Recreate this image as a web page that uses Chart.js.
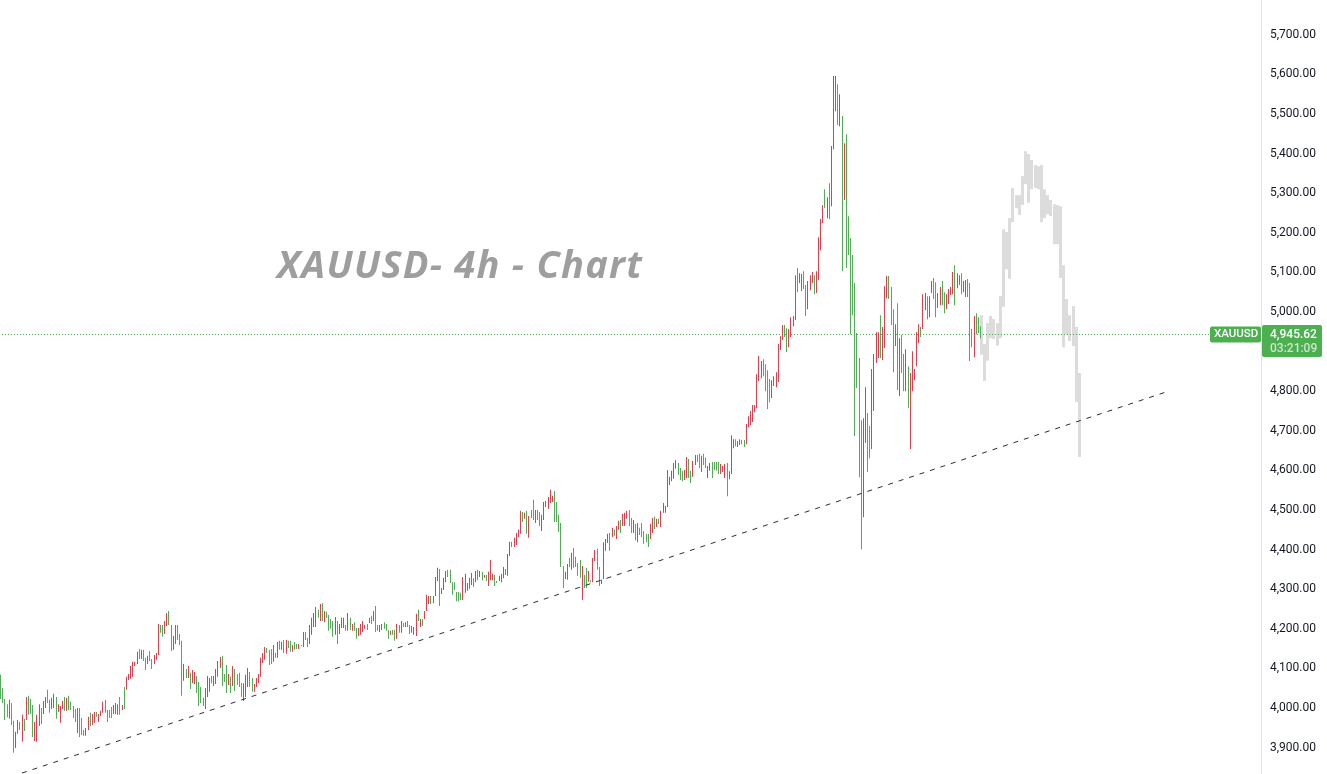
<!DOCTYPE html>
<html>
<head>
<meta charset="utf-8">
<title>XAUUSD 4h</title>
<script src="https://cdn.jsdelivr.net/npm/chart.js@4"></script>
<style>
  html, body { margin: 0; padding: 0; background: #fff; overflow: hidden; }
  canvas { display: block; }
</style>
</head>
<body>
<canvas id="chart" width="1327" height="774"></canvas>
<script>
const yTicks = [3900, 4000, 4100, 4200, 4300, 4400, 4500, 4600, 4700, 4800, 4900, 5000, 5100, 5200, 5300, 5400, 5500, 5600, 5700];
const lastPrice = 4945.62;
const countdown = '03:21:09';
const symbol = 'XAUUSD';
const chartTitle = 'XAUUSD- 4h - Chart';

// bars, one entry per 4h bar
const barHigh = [
  4084,4051,4023,4010,4021,4013,3968,3940,3970,3965,
  3983,3973,4028,4031,4023,4008,3965,3983,4010,4000,
  4018,4028,4046,4021,4026,4036,4028,4010,4005,4018,
  4028,4026,4031,4016,4005,3998,4000,4000,3975,3945,
  3950,3978,3988,3985,3990,3990,3985,3993,4016,4021,
  3995,3995,4003,4008,4013,4010,4028,4008,4053,4079,
  4086,4106,4117,4117,4142,4149,4147,4147,4127,4132,
  4144,4124,4134,4139,4212,4210,4210,4220,4240,4245,
  4210,4182,4210,4210,4187,4170,4111,4099,4106,4089,
  4096,4091,4081,4066,4053,4026,4051,4081,4076,4081,
  4081,4099,4119,4129,4132,4086,4109,4086,4079,4106,
  4099,4086,4089,4063,4063,4084,4101,4091,4076,4061,
  4076,4086,4127,4139,4154,4152,4147,4149,4159,4139,
  4167,4170,4167,4172,4172,4170,4170,4159,4167,4162,
  4162,4159,4192,4192,4177,4210,4228,4240,4255,4248,
  4263,4265,4245,4243,4235,4225,4220,4230,4220,4212,
  4228,4228,4210,4240,4228,4212,4217,4202,4202,4212,
  4220,4210,4212,4228,4233,4245,4258,4210,4210,4212,
  4217,4212,4197,4195,4197,4197,4212,4210,4220,4215,
  4217,4220,4210,4207,4205,4238,4248,4225,4225,4245,
  4286,4283,4283,4283,4331,4354,4351,4303,4329,4346,
  4349,4349,4318,4318,4293,4293,4291,4331,4339,4316,
  4329,4341,4328,4346,4349,4346,4344,4336,4336,4344,
  4374,4339,4336,4321,4334,4339,4356,4351,4389,4420,
  4420,4430,4442,4450,4498,4495,4493,4498,4485,4500,
  4526,4500,4500,4495,4488,4520,4523,4533,4551,4536,
  4548,4520,4488,4467,4359,4344,4364,4379,4392,4404,
  4382,4366,4374,4359,4336,4354,4346,4323,4379,4399,
  4402,4356,4324,4419,4427,4440,4442,4455,4450,4460,
  4473,4475,4490,4493,4498,4500,4480,4475,4465,4467,
  4455,4467,4447,4440,4440,4465,4480,4483,4478,4478,
  4498,4518,4510,4601,4584,4599,4619,4626,4619,4606,
  4599,4601,4634,4629,4599,4624,4639,4639,4642,4637,
  4642,4632,4611,4619,4621,4621,4621,4621,4616,4611,
  4616,4619,4598,4689,4679,4679,4674,4679,4677,4677,
  4717,4737,4750,4765,4765,4843,4889,4876,4881,4868,
  4853,4831,4828,4838,4848,4919,4939,4967,4967,4959,
  4957,4987,4990,5093,5111,5098,5096,5103,5068,5078,
  5093,5101,5093,5103,5189,5235,5270,5310,5290,5325,
  5419,5596,5596,5575,5550,5495,5426,5449,5242,5187,
  5144,5073,4947,4884,4727,4732,4810,4745,4712,4856,
  4894,4949,4949,4992,4962,5065,5091,5091,5063,5007,
  4969,5022,4934,4942,4894,4906,4863,4846,4901,4856,
  4949,4969,4962,5045,5048,5040,5040,5078,5086,5075,
  5048,5063,5078,5050,5045,5058,5063,5101,5118,5098,
  5093,5098,5078,5081,5083,5073,4957,4990,4997,4987,4964
];
const barLow = [
  4023,4013,3970,3977,3973,3957,3887,3899,3935,3945,
  3915,3942,3970,3983,3985,3927,3917,3915,3955,3960,
  3985,4000,4013,3988,3998,4000,3973,3990,3963,3998,
  3993,3993,3995,3995,3975,3965,3937,3927,3932,3930,
  3930,3945,3955,3957,3963,3978,3965,3980,3988,3988,
  3965,3975,3975,3985,3985,3983,3983,3995,3998,4046,
  4071,4074,4079,4106,4111,4124,4124,4119,4096,4111,
  4119,4099,4111,4122,4134,4190,4180,4187,4207,4210,
  4144,4147,4162,4172,4159,4031,4069,4076,4076,4048,
  4063,4061,4038,4005,4013,4005,3998,4028,4041,4063,
  4056,4061,4079,4101,4056,4066,4038,4058,4038,4056,
  4043,4058,4053,4028,4018,4028,4053,4053,4041,4041,
  4053,4063,4079,4114,4122,4139,4109,4111,4117,4127,
  4127,4147,4147,4139,4137,4152,4142,4142,4147,4149,
  4149,4157,4154,4172,4154,4162,4185,4205,4205,4228,
  4220,4220,4217,4228,4195,4200,4180,4185,4162,4187,
  4202,4202,4195,4195,4197,4195,4195,4175,4182,4185,
  4192,4200,4197,4215,4212,4220,4192,4195,4192,4197,
  4200,4195,4175,4185,4185,4170,4175,4190,4190,4205,
  4205,4205,4187,4190,4185,4182,4220,4205,4207,4225,
  4245,4263,4263,4265,4283,4321,4258,4288,4298,4318,
  4331,4316,4286,4298,4270,4270,4273,4273,4291,4296,
  4301,4311,4306,4318,4323,4331,4323,4329,4321,4308,
  4323,4323,4308,4316,4321,4318,4328,4336,4334,4384,
  4407,4407,4412,4432,4440,4470,4478,4440,4430,4480,
  4475,4467,4475,4460,4447,4475,4508,4503,4518,4520,
  4470,4470,4445,4356,4303,4326,4324,4356,4349,4354,
  4356,4334,4329,4273,4303,4303,4319,4318,4318,4371,
  4349,4308,4313,4326,4397,4417,4397,4432,4435,4427,
  4450,4442,4460,4460,4478,4460,4442,4442,4424,4419,
  4437,4432,4414,4419,4407,4427,4442,4452,4457,4465,
  4457,4493,4493,4508,4563,4573,4579,4604,4589,4576,
  4573,4576,4581,4581,4568,4584,4614,4621,4606,4596,
  4614,4606,4581,4599,4581,4601,4599,4591,4591,4596,
  4581,4535,4578,4591,4656,4661,4659,4664,4666,4659,
  4666,4709,4714,4722,4747,4757,4826,4833,4838,4800,
  4755,4772,4783,4813,4810,4823,4904,4929,4937,4899,
  4911,4937,4964,4980,5050,5073,5053,5058,4990,5007,
  5055,5073,5045,5048,5081,5156,5225,5262,5237,5235,
  5267,5411,5507,5472,5469,5103,5283,5111,5144,4944,
  4992,4687,4808,4583,4401,4482,4669,4596,4631,4654,
  4750,4871,4884,4884,4879,4909,5035,5033,4967,4848,
  4914,4803,4788,4846,4800,4800,4757,4654,4800,4828,
  4863,4921,4937,4957,5005,4982,4987,5048,5033,4987,
  5010,5017,5017,4997,5007,5020,5043,5045,5017,5060,
  5068,5045,5050,5038,5038,4876,4911,4886,4944,4947,4934
];
// g = green bar, r = red bar
const barSide = [
  'ggggrggrrg','rgrgggrrrg','rrggrrgrrr','grggggrggg','rrgrrgrrrg','gggrrrgrgr',
  'rrrrrgrggr','ggrrrggrrg','grrgggrgrg','rrggggrrrg','rrrrgggrgr','ggggrrrggr',
  'rrrrrgggrg','rgrgrggrgg','rgrggrrrrg','rgrggggrgr','rrgrgrggrr','rrgrgrggrr',
  'gggrggrgrg','rggrrrgrgr','rrgrrrgrrr','gggggggrrr','rrgrgrgrgr','rrggrrrgrr',
  'grrrrgrgrg','grggrrrrrr','gggggrrgrg','gggrggrgrr','ggrrrrgrgr','rgrrrggrgr',
  'gggggrrgrg','rrrrrrrrgg','grrggrrggr','ggrrggggrr','rgrrrgrrgg','rrrrrrrrgg',
  'ggrrrrrrgg','rrrrgrrggr','rrgrrrrgrg','rrrgrgrggg','gggggrrggr','rrrgrrrggg',
  'rgrggrgrrr','rrgrrgrrgg','rrggrrrrgr','rgrrgggrggg'
].join('').split('');

// faded projection pasted on the right, drawn wider than the live bars
const ghostHigh = [
  4992,4919,4972,4990,4982,4972,5040,5209,5202,5237,5313,5295,5295,5343,5406,5399,
  5384,5371,5368,5371,5310,5295,5283,5272,5270,5267,5118,5033,4992,5015,4962,4846
];
const ghostLow = [
  4892,4826,4877,4934,4932,4915,4934,5013,5108,5084,5227,5262,5245,5270,5323,5276,
  5310,5313,5310,5227,5237,5247,5242,5171,5171,5086,4911,4944,4927,4914,4773,4634
];
const ghostStart = 460.4;
const ghostStep = 1.484;

// hand drawn trendline, bar index and price of both ends
const trendIndex = [10, 547.1];
const trendPrice = [3836, 4798];

const GREEN = '#4caf50';
const RED = '#f23645';

const bars = barHigh.map((h, i) => ({ x: i, y: [barLow[i], h] }));
const ghost = ghostHigh.map((h, i) => ({ x: ghostStart + i * ghostStep, y: [ghostLow[i], h] }));

// keep the thin bars and the price line on whole pixels so they stay sharp
const snapMarks = {
  id: 'snapMarks',
  beforeDatasetsDraw(chart) {
    chart.data.datasets.forEach((ds, i) => {
      const els = chart.getDatasetMeta(i).data;
      if (ds.snap === 'bar') {
        els.forEach(el => { el.x = Math.floor(el.x) + 0.5; });
      } else if (ds.snap === 'price') {
        els.forEach(el => { el.x = Math.round(el.x); el.y = Math.round(el.y) + 0.5; });
      }
    });
  }
};

const pricePill = {
  id: 'pricePill',
  afterDraw(chart) {
    const ctx = chart.ctx;
    const y = chart.scales.y.getPixelForValue(lastPrice);
    ctx.save();

    ctx.fillStyle = '#9e9e9e';
    ctx.font = 'italic bold 38px "Open Sans"';
    ctx.letterSpacing = '1.25px';
    ctx.textAlign = 'left';
    ctx.textBaseline = 'alphabetic';
    ctx.fillText(chartTitle, 277, 278);
    ctx.letterSpacing = '0px';

    ctx.fillStyle = GREEN;
    ctx.beginPath();
    ctx.roundRect(1210, y - 7, 51, 16, 2);
    ctx.fill();
    ctx.beginPath();
    ctx.roundRect(1262, y - 8.5, 60, 32, 2);
    ctx.fill();

    ctx.textBaseline = 'middle';
    ctx.fillStyle = '#fff';
    ctx.font = '500 11.5px Roboto';
    ctx.fillText(symbol, 1214, y + 1);
    ctx.font = '500 12px Roboto';
    ctx.fillText(lastPrice.toLocaleString('en-US', { minimumFractionDigits: 2 }), 1270, y + 1);
    ctx.fillStyle = 'rgba(255,255,255,0.7)';
    ctx.fillText(countdown, 1270, y + 15);
    ctx.restore();
  }
};

new Chart(document.getElementById('chart'), {
  type: 'bar',
  data: {
    datasets: [
      {
        data: ghost,
        backgroundColor: '#dcdcdc',
        barThickness: 3,
        inflateAmount: 0,
        grouped: false,
        snap: 'bar',
        order: 5
      },
      {
        type: 'line',
        data: [{ x: -1, y: lastPrice }, { x: 592, y: lastPrice }],
        borderColor: GREEN,
        borderWidth: 1,
        borderDash: [1, 2],
        pointRadius: 0,
        snap: 'price',
        order: 4
      },
      {
        data: bars,
        backgroundColor: barSide.map(s => s === 'g' ? GREEN : RED),
        barThickness: 1,
        inflateAmount: 0,
        grouped: false,
        snap: 'bar',
        order: 3
      },
      {
        type: 'line',
        data: trendIndex.map((x, i) => ({ x, y: trendPrice[i] })),
        borderColor: '#2a2e39',
        borderWidth: 1,
        borderDash: [5, 6],
        pointRadius: 0,
        order: 2
      }
    ]
  },
  options: {
    responsive: false,
    devicePixelRatio: 1,
    animation: false,
    layout: { padding: 0 },
    plugins: { legend: { display: false }, tooltip: { enabled: false } },
    scales: {
      x: {
        type: 'linear',
        min: -0.329,
        max: 591.7,
        offset: false,
        display: false,
        grid: { display: false }
      },
      y: {
        position: 'right',
        min: 3833.6,
        max: 5787.7,
        grid: { display: false, drawTicks: false },
        border: { display: true, color: '#e0e3eb' },
        afterBuildTicks: ax => { ax.ticks = yTicks.map(value => ({ value })); },
        afterFit: ax => { ax.width = 66; ax.paddingTop = 0; ax.paddingBottom = 0; },
        ticks: {
          padding: 9,
          color: '#131722',
          font: { family: 'Roboto', size: 12 },
          callback: v => v.toLocaleString('en-US', { minimumFractionDigits: 2 })
        }
      }
    }
  },
  plugins: [snapMarks, pricePill]
});
</script>
</body>
</html>
